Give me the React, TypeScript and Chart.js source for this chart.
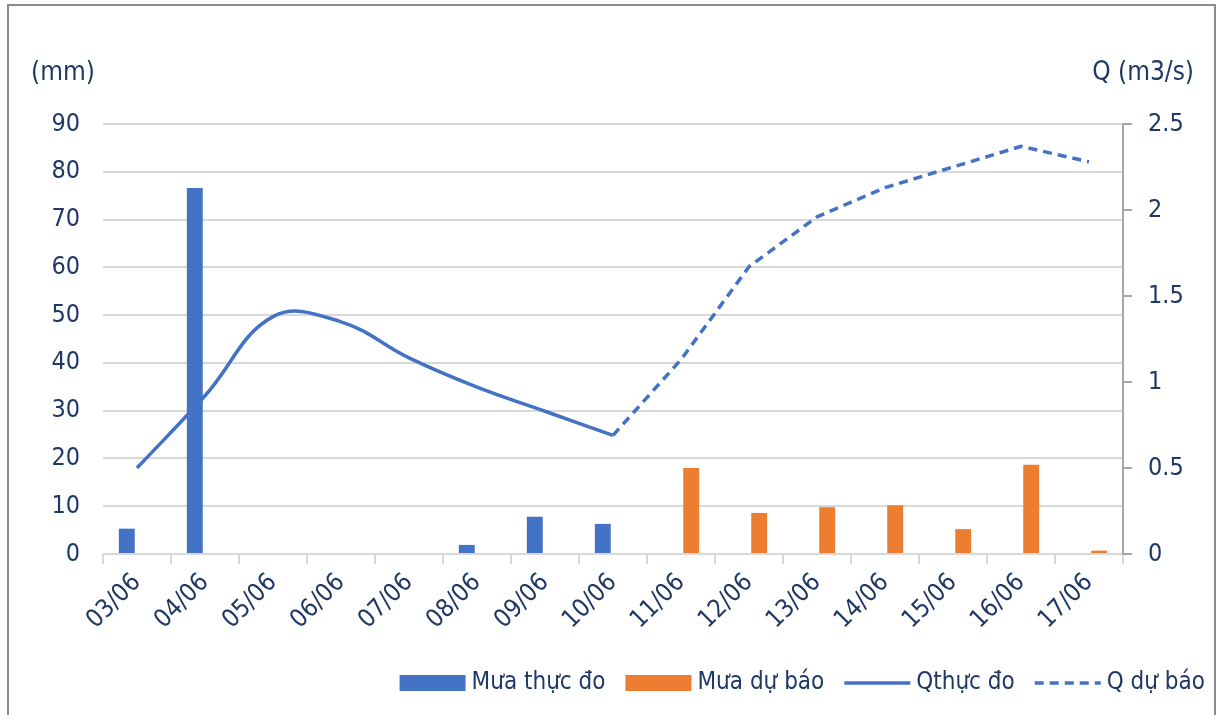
import React, { useEffect, useRef } from "react";
import { Chart, registerables } from "chart.js";

Chart.register(...registerables);

const categories = ["03/06", "04/06", "05/06", "06/06", "07/06", "08/06", "09/06", "10/06", "11/06", "12/06", "13/06", "14/06", "15/06", "16/06", "17/06"];
const rainObserved = [5.3, 76.6, 0, 0, 0, 1.9, 7.8, 6.3, null, null, null, null, null, null, null];
const rainForecast = [null, null, null, null, null, null, null, null, 18.0, 8.6, 9.8, 10.2, 5.2, 18.7, 0.7];
const qObserved = [0.5, 0.92, 1.38, 1.35, 1.14, 0.97, 0.83, 0.69, null, null, null, null, null, null, null];
const qForecast = [null, null, null, null, null, null, null, 0.69, 1.13, 1.67, 1.96, 2.13, 2.25, 2.37, 2.28];
const leftTicks = { min: 0, max: 90, step: 10 };
const rightTicks = { min: 0, max: 2.5, step: 0.5 };
const seriesNames = ["Mưa thực đo", "Mưa dự báo", "Qthực đo", "Q dự báo"];
const leftTitle = "(mm)";
const rightTitle = "Q (m3/s)";

const FONT = '"DejaVu Sans Condensed", "DejaVu Sans", sans-serif';
const TEXT = "#1F3864";
const BLUE = "#4472C4";
const ORANGE = "#ED7D31";
const GRID = "#d9d9d9";
const DASH = [9, 6];

const framePlugin = {
  id: "frame",
  beforeDraw(chart: any) {
    const ctx = chart.ctx;
    ctx.save();
    ctx.fillStyle = "#ffffff";
    ctx.fillRect(0, 0, chart.width, chart.height);
    ctx.strokeStyle = "#8c8c8c";
    ctx.lineWidth = 2;
    ctx.strokeRect(8, 5, chart.width - 11, chart.height + 20);
    ctx.restore();
  },
  afterDraw(chart: any) {
    const ctx = chart.ctx;
    ctx.save();
    ctx.font = `26px ${FONT}`;
    ctx.fillStyle = TEXT;
    ctx.textBaseline = "middle";
    ctx.textAlign = "left";
    ctx.fillText(leftTitle, 31, 73);
    ctx.textAlign = "right";
    ctx.fillText(rightTitle, 1194, 73);

    // legend
    ctx.font = `24px ${FONT}`;
    const items = [
      { type: "box", color: BLUE, text: seriesNames[0] },
      { type: "box", color: ORANGE, text: seriesNames[1] },
      { type: "line", color: BLUE, text: seriesNames[2] },
      { type: "dash", color: BLUE, text: seriesNames[3] },
    ];
    const symW = 66;
    const gapText = 6;
    const gapItem = 20;
    let total = 0;
    items.forEach((it, i) => {
      total += symW + gapText + ctx.measureText(it.text).width + (i < items.length - 1 ? gapItem : 0);
    });
    let x = 1205 - total;
    const cy = 683;
    ctx.textAlign = "left";
    items.forEach((it) => {
      if (it.type === "box") {
        ctx.fillStyle = it.color;
        ctx.fillRect(x, cy - 8, symW, 16);
      } else {
        ctx.strokeStyle = it.color;
        ctx.lineWidth = 3.5;
        ctx.setLineDash(it.type === "dash" ? DASH : []);
        ctx.beginPath();
        ctx.moveTo(x, cy);
        ctx.lineTo(x + symW, cy);
        ctx.stroke();
        ctx.setLineDash([]);
      }
      x += symW + gapText;
      ctx.fillStyle = TEXT;
      ctx.fillText(it.text, x, cy);
      x += ctx.measureText(it.text).width + gapItem;
    });
    ctx.restore();
  },
};

export default function App() {
  const ref = useRef<HTMLCanvasElement | null>(null);
  useEffect(() => {
    document.body.style.margin = "0";
    const canvas = ref.current!;
    const chart = new Chart(canvas, {
      type: "bar",
      data: {
        labels: categories,
        datasets: [
          {
            type: "bar",
            label: seriesNames[0],
            data: rainObserved,
            backgroundColor: BLUE,
            yAxisID: "y",
            order: 0,
            categoryPercentage: 0.6,
            barPercentage: 0.78,
          },
          {
            type: "bar",
            label: seriesNames[1],
            data: rainForecast,
            backgroundColor: ORANGE,
            yAxisID: "y",
            order: 0,
            categoryPercentage: 0.6,
            barPercentage: 0.78,
          },
          {
            type: "line",
            label: seriesNames[2],
            data: qObserved,
            borderColor: BLUE,
            backgroundColor: BLUE,
            borderWidth: 3.5,
            pointRadius: 0,
            tension: 0.4,
            yAxisID: "y1",
            order: 1,
            spanGaps: false,
          },
          {
            type: "line",
            label: seriesNames[3],
            data: qForecast,
            borderColor: BLUE,
            backgroundColor: BLUE,
            borderWidth: 3.5,
            borderDash: DASH,
            pointRadius: 0,
            tension: 0,
            yAxisID: "y1",
            order: 1,
          },
        ],
      } as any,
      options: {
        responsive: false,
        animation: false,
        devicePixelRatio: 1,
        layout: { padding: { top: 124, left: 0, right: 0, bottom: 0 } },
        plugins: { legend: { display: false }, tooltip: { enabled: false } },
        scales: {
          x: {
            type: "category",
            offset: true,
            grid: { display: true, drawOnChartArea: false, drawTicks: true, tickLength: 10, color: GRID, lineWidth: 2, offset: true },
            border: { display: true, color: GRID, width: 2 },
            ticks: { minRotation: 45, maxRotation: 45, autoSkip: false, padding: 4, color: TEXT, font: { family: FONT, size: 25 } },
            afterFit(scale: any) {
              scale.height = 161;
            },
          },
          y: {
            position: "left",
            min: leftTicks.min,
            max: leftTicks.max,
            ticks: { stepSize: leftTicks.step, padding: 23, color: TEXT, font: { family: FONT, size: 25 } },
            grid: { color: GRID, lineWidth: 2, drawTicks: false },
            border: { display: false },
            afterFit(scale: any) {
              scale.width = 103;
            },
          },
          y1: {
            position: "right",
            min: rightTicks.min,
            max: rightTicks.max,
            ticks: {
              stepSize: rightTicks.step,
              padding: 16,
              color: TEXT,
              font: { family: FONT, size: 25 },
              callback: (v: any) => String(Number(v)),
            },
            grid: { drawOnChartArea: false, drawTicks: true, tickLength: 9, color: "#a6a6a6", lineWidth: 2 },
            border: { display: true, color: "#a6a6a6", width: 2 },
            afterFit(scale: any) {
              scale.width = 95;
            },
          },
        },
      } as any,
      plugins: [framePlugin],
    });
    return () => chart.destroy();
  }, []);
  return (
    <div style={{ width: 1218, height: 715 }}>
      <canvas ref={ref} width={1218} height={715} style={{ display: "block", width: 1218, height: 715 }} />
    </div>
  );
}
